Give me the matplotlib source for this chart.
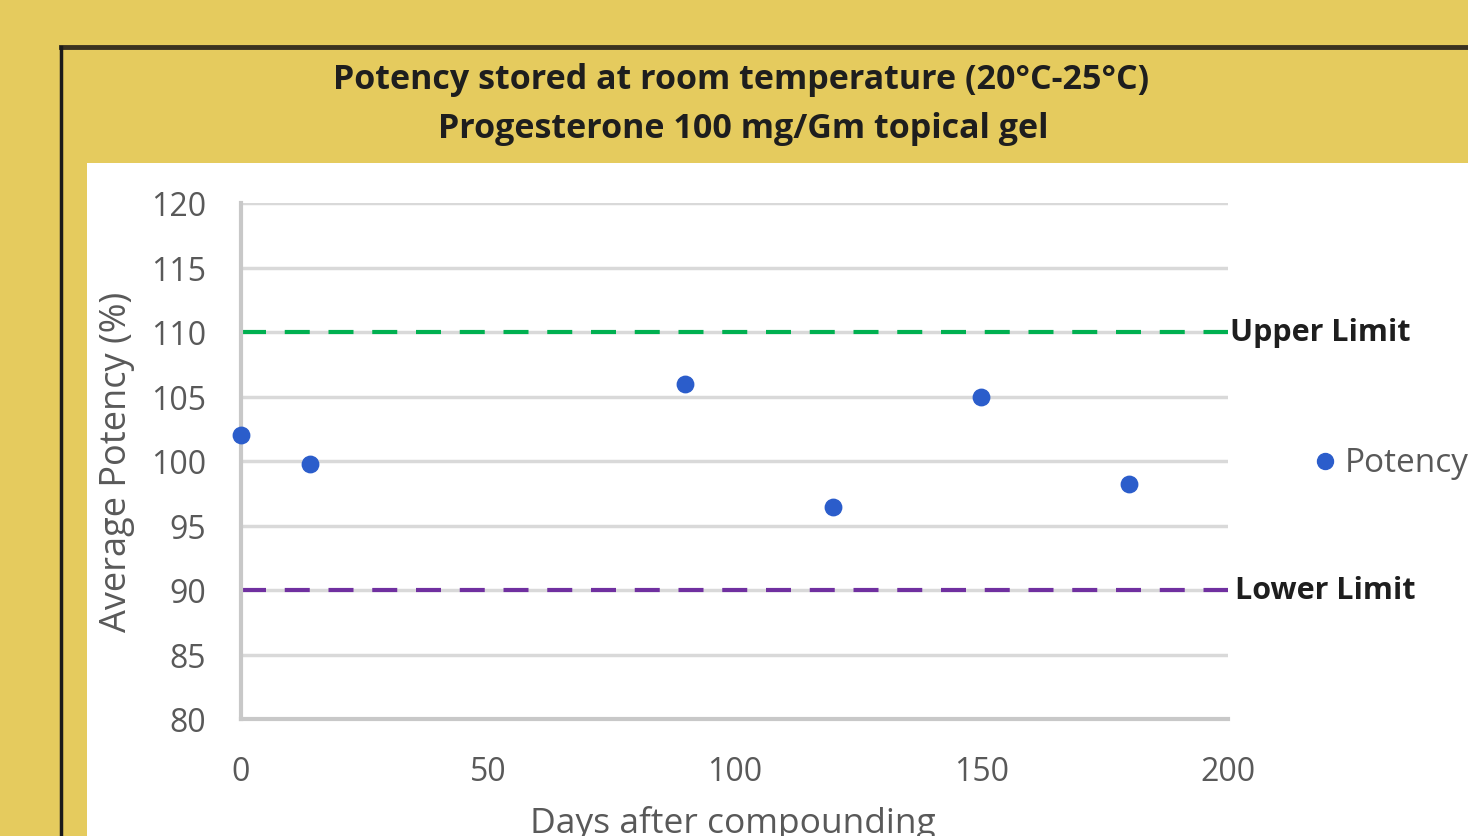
import matplotlib
matplotlib.use("Agg")
import matplotlib.pyplot as plt
from matplotlib.patches import Rectangle
from matplotlib.lines import Line2D

days = [0, 14, 90, 120, 150, 180]
potency = [102.0, 99.8, 106.0, 96.4, 105.0, 98.2]
upper_limit = 110
lower_limit = 90
x_ticks = [0, 50, 100, 150, 200]
y_ticks = [80, 85, 90, 95, 100, 105, 110, 115, 120]
title_lines = ["Potency stored at room temperature (20°C-25°C)",
               "Progesterone 100 mg/Gm topical gel"]

W, H = 1468, 837
fig = plt.figure(figsize=(W / 100, H / 100), dpi=100)
fig.patch.set_facecolor("#E5CB5E")

def fx(px):
    return px / W

def fy(py):
    return 1 - py / H

font = "Open Sans"
dark = "#1e1e1e"
gray = "#595959"
# white plot area
fig.add_artist(Rectangle((fx(87), 0), 1 - fx(87), fy(164), transform=fig.transFigure,
                         facecolor="white", edgecolor="none", zorder=0))
# dark frame
fig.add_artist(Line2D([fx(61), 1], [fy(48), fy(48)], transform=fig.transFigure,
                      color="#3a3220", lw=3.5, zorder=1))
fig.add_artist(Line2D([fx(61), fx(61)], [0, fy(48)], transform=fig.transFigure,
                      color="#1a1a1a", lw=2.5, zorder=1))

fig.text(fx(741), fy(80), title_lines[0], ha="center", va="center",
         fontsize=24.5, fontweight="bold", family=font, color=dark)
fig.text(fx(743), fy(129), title_lines[1], ha="center", va="center",
         fontsize=24.5, fontweight="bold", family=font, color=dark)

ax = fig.add_axes([fx(241), fy(720), fx(1228) - fx(241), fy(204) - fy(720)])
ax.set_facecolor("white")
ax.set_xlim(0, 200)
ax.set_ylim(80, 120)
ax.set_xticks(x_ticks)
ax.set_yticks(y_ticks)
ax.grid(axis="y", color="#D9D9D9", lw=2.5)
ax.set_axisbelow(True)
for s in ["top", "right"]:
    ax.spines[s].set_visible(False)
for s in ["left", "bottom"]:
    ax.spines[s].set_color("#C8C8C8")
    ax.spines[s].set_linewidth(3)
ax.tick_params(length=0, labelsize=23, labelcolor=gray)
ax.tick_params(axis="y", pad=25)
ax.tick_params(axis="x", pad=26)
for lbl in ax.get_xticklabels() + ax.get_yticklabels():
    lbl.set_family(font)

ax.plot([0, 200], [upper_limit, upper_limit], color="#00B050", lw=3,
        dashes=(6, 4.5), clip_on=False)
ax.plot([0, 200], [lower_limit, lower_limit], color="#7030A0", lw=3,
        dashes=(6, 4.5), clip_on=False)
ax.scatter(days, potency, s=140, color="#2B5DCB", zorder=3, clip_on=False,
           label="Potency")

ax.text(200.5, upper_limit, "Upper Limit", ha="left", va="center", fontsize=22,
        fontweight="bold", family=font, color=dark, clip_on=False)
ax.text(201.5, lower_limit, "Lower Limit", ha="left", va="center", fontsize=22,
        fontweight="bold", family=font, color=dark, clip_on=False)

fig.text(fx(117), fy(462), "Average Potency (%)", rotation=90, ha="center",
         va="center", fontsize=26, family=font, color=gray)
fig.text(fx(733), fy(824), "Days after compounding", ha="center", va="center",
         fontsize=25.5, family=font, color=gray)

# legend
fig.add_artist(Line2D([fx(1325)], [fy(462)], transform=fig.transFigure,
                      marker="o", markersize=11.5, color="#2B5DCB", lw=0))
fig.text(fx(1345), fy(464), "Potency", ha="left", va="center", fontsize=24,
         family=font, color=gray)

fig.savefig("out.png", dpi=100, facecolor=fig.get_facecolor())
